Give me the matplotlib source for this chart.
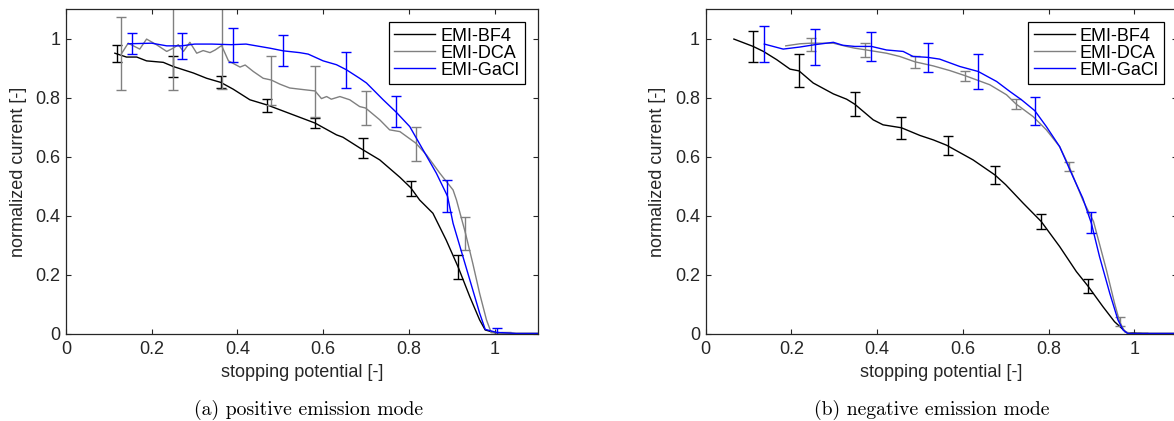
import matplotlib
matplotlib.use('Agg')
import matplotlib.pyplot as plt
from matplotlib.ticker import FuncFormatter

# ---- data (stopping potential vs normalized current) ----
series_names = ['EMI-BF4', 'EMI-DCA', 'EMI-GaCl']
series_colors = ['black', '#808080', '#0000ff']

# (a) positive emission mode
pos_bf4_x = [0.114, 0.141, 0.165, 0.188, 0.227, 0.250, 0.297, 0.328, 0.361, 0.390, 0.429, 0.470,
             0.530, 0.581, 0.631, 0.646, 0.685, 0.732, 0.779, 0.804, 0.825, 0.856, 0.887, 0.915,
             0.942, 0.965, 0.978, 1.000, 1.050, 1.100]
pos_bf4_y = [0.951, 0.938, 0.938, 0.925, 0.920, 0.906, 0.884, 0.866, 0.852, 0.829, 0.793, 0.775,
             0.742, 0.714, 0.674, 0.666, 0.630, 0.589, 0.530, 0.495, 0.453, 0.408, 0.317, 0.225,
             0.125, 0.046, 0.012, 0.003, 0.000, 0.000]
pos_bf4_ex = [0.118, 0.250, 0.361, 0.470, 0.581, 0.693, 0.804, 0.915]
pos_bf4_ey = [0.950, 0.906, 0.852, 0.775, 0.714, 0.628, 0.493, 0.225]
pos_bf4_err = [0.029, 0.035, 0.020, 0.022, 0.018, 0.034, 0.025, 0.040]

pos_dca_x = [0.128, 0.145, 0.172, 0.188, 0.211, 0.235, 0.250, 0.262, 0.274, 0.289, 0.305, 0.320,
             0.336, 0.348, 0.363, 0.379, 0.406, 0.418, 0.437, 0.460, 0.479, 0.499, 0.522, 0.545,
             0.581, 0.596, 0.608, 0.619, 0.639, 0.662, 0.685, 0.699, 0.732, 0.755, 0.779, 0.816,
             0.841, 0.872, 0.903, 0.911, 0.932, 0.949, 0.965, 0.981, 0.992, 1.030, 1.100]
pos_dca_y = [0.946, 0.985, 0.965, 0.999, 0.980, 0.957, 0.968, 0.980, 0.957, 0.988, 0.951, 0.960,
             0.953, 0.962, 0.977, 0.925, 0.904, 0.911, 0.889, 0.866, 0.860, 0.846, 0.833, 0.829,
             0.823, 0.797, 0.804, 0.795, 0.804, 0.793, 0.770, 0.765, 0.725, 0.691, 0.685, 0.646,
             0.606, 0.544, 0.487, 0.453, 0.340, 0.238, 0.136, 0.046, 0.003, 0.000, 0.000]
pos_dca_ex = [0.128, 0.250, 0.363, 0.479, 0.581, 0.699, 0.816, 0.932, 1.027]
pos_dca_ey = [0.950, 0.968, 0.977, 0.858, 0.821, 0.765, 0.643, 0.340, 0.002]
pos_dca_err = [0.123, 0.142, 0.148, 0.084, 0.088, 0.057, 0.057, 0.055, 0.004]

pos_gacl_x = [0.145, 0.200, 0.235, 0.270, 0.300, 0.340, 0.386, 0.420, 0.476, 0.507, 0.545, 0.565,
              0.600, 0.631, 0.654, 0.685, 0.701, 0.740, 0.771, 0.802, 0.833, 0.864, 0.890, 0.903,
              0.926, 0.949, 0.965, 0.978, 1.004, 1.050, 1.100]
pos_gacl_y = [0.983, 0.985, 0.976, 0.976, 0.982, 0.982, 0.980, 0.982, 0.968, 0.959, 0.953, 0.948,
              0.925, 0.912, 0.895, 0.866, 0.850, 0.793, 0.750, 0.702, 0.623, 0.544, 0.466, 0.374,
              0.261, 0.148, 0.069, 0.014, 0.004, 0.000, 0.000]
pos_gacl_ex = [0.153, 0.270, 0.389, 0.507, 0.654, 0.771, 0.890, 1.005]
pos_gacl_ey = [0.984, 0.977, 0.978, 0.960, 0.894, 0.754, 0.466, 0.007]
pos_gacl_err = [0.035, 0.044, 0.057, 0.052, 0.061, 0.052, 0.055, 0.013]

# (b) negative emission mode
neg_bf4_x = [0.066, 0.111, 0.135, 0.166, 0.197, 0.218, 0.251, 0.298, 0.329, 0.348, 0.391, 0.414,
             0.457, 0.500, 0.531, 0.562, 0.624, 0.675, 0.700, 0.741, 0.783, 0.826, 0.865, 0.892,
             0.927, 0.954, 0.982, 1.020, 1.100]
neg_bf4_y = [0.999, 0.974, 0.957, 0.929, 0.897, 0.891, 0.850, 0.813, 0.795, 0.778, 0.725, 0.708,
             0.698, 0.672, 0.657, 0.639, 0.589, 0.538, 0.505, 0.442, 0.380, 0.295, 0.210, 0.161,
             0.091, 0.040, 0.003, 0.000, 0.000]
neg_bf4_ex = [0.111, 0.218, 0.348, 0.457, 0.566, 0.675, 0.783, 0.892, 1.020]
neg_bf4_ey = [0.974, 0.891, 0.778, 0.698, 0.639, 0.538, 0.380, 0.161, 0.000]
neg_bf4_err = [0.054, 0.056, 0.040, 0.037, 0.032, 0.030, 0.024, 0.023, 0.003]

neg_dca_x = [0.187, 0.220, 0.245, 0.298, 0.329, 0.348, 0.371, 0.422, 0.453, 0.488, 0.531, 0.570,
             0.605, 0.663, 0.702, 0.724, 0.764, 0.795, 0.826, 0.848, 0.880, 0.905, 0.935, 0.954,
             0.966, 0.978, 1.000, 1.100]
neg_dca_y = [0.976, 0.983, 0.985, 0.985, 0.974, 0.968, 0.963, 0.951, 0.940, 0.922, 0.908, 0.892,
             0.875, 0.844, 0.810, 0.779, 0.736, 0.691, 0.634, 0.567, 0.453, 0.380, 0.216, 0.103,
             0.040, 0.005, 0.000, 0.000]
neg_dca_ex = [0.245, 0.371, 0.488, 0.605, 0.724, 0.848, 0.966]
neg_dca_ey = [0.980, 0.963, 0.920, 0.875, 0.779, 0.567, 0.040]
neg_dca_err = [0.021, 0.024, 0.020, 0.017, 0.017, 0.016, 0.016]

neg_gacl_x = [0.137, 0.181, 0.220, 0.255, 0.298, 0.320, 0.348, 0.387, 0.422, 0.461, 0.484, 0.518,
              0.546, 0.593, 0.636, 0.679, 0.710, 0.737, 0.768, 0.795, 0.826, 0.857, 0.880, 0.900,
              0.919, 0.943, 0.962, 0.974, 0.985, 1.100]
neg_gacl_y = [0.982, 0.965, 0.972, 0.980, 0.988, 0.978, 0.974, 0.974, 0.962, 0.957, 0.940, 0.937,
              0.931, 0.906, 0.889, 0.855, 0.821, 0.793, 0.756, 0.702, 0.634, 0.532, 0.459, 0.374,
              0.261, 0.136, 0.046, 0.012, 0.000, 0.000]
neg_gacl_ex = [0.137, 0.255, 0.387, 0.518, 0.636, 0.768, 0.900]
neg_gacl_ey = [0.982, 0.972, 0.974, 0.937, 0.889, 0.756, 0.376]
neg_gacl_err = [0.062, 0.060, 0.050, 0.050, 0.058, 0.048, 0.036]

xticks = [0, 0.2, 0.4, 0.6, 0.8, 1.0]
yticks = [0, 0.2, 0.4, 0.6, 0.8, 1.0]
captions = ['(a) positive emission mode', '(b) negative emission mode']

AX_COLOR = '#262626'
FONT = ['Liberation Sans', 'DejaVu Sans']
FS = 13


def draw_panel(ax, lines, bars):
    for (x, y), (ex, ey, err), name, c in zip(lines, bars, series_names, series_colors):
        ax.plot(x, y, color=c, lw=1.0, label=name)
        ax.errorbar(ex, ey, yerr=err, fmt='none', ecolor=c, elinewidth=1.0,
                    capsize=3.6, capthick=1.0)

    ax.set_xlim(0, 1.1)
    ax.set_ylim(0, 1.1)
    ax.set_xticks(xticks)
    ax.set_yticks(yticks)
    fmt = FuncFormatter(lambda v, p: f'{v:g}')
    ax.xaxis.set_major_formatter(fmt)
    ax.yaxis.set_major_formatter(fmt)
    ax.tick_params(direction='in', top=True, right=True, length=3.6, width=0.8,
                   color=AX_COLOR, labelcolor=AX_COLOR, labelsize=FS)
    ax.tick_params(axis='x', pad=5.5)
    ax.tick_params(axis='y', pad=4)
    for s in ax.spines.values():
        s.set_color(AX_COLOR)
        s.set_linewidth(0.9)

    ax.set_xlabel('stopping potential [-]', fontsize=FS, color=AX_COLOR)
    ax.set_ylabel('normalized current [-]', fontsize=FS, color=AX_COLOR)
    ax.xaxis.set_label_coords(0.5, -0.095)
    ax.yaxis.set_label_coords(-0.083, 0.5)

    leg = ax.legend(loc='upper right', fontsize=FS, fancybox=False, edgecolor='black',
                    framealpha=1, handlelength=2.27, handletextpad=0.28, labelspacing=0.0,
                    borderpad=0.3, borderaxespad=0.72)
    leg.get_frame().set_linewidth(0.9)


def main():
    plt.rcParams['font.family'] = FONT
    fig = plt.figure(figsize=(11.74, 4.21), dpi=100)
    W, H = 1174, 421
    bottom = (H - 333.5) / H
    height = 324.2 / H
    ax1 = fig.add_axes([66 / W, bottom, 471.5 / W, height])
    ax2 = fig.add_axes([705.6 / W, bottom, 471.5 / W, height])

    draw_panel(ax1,
               [(pos_bf4_x, pos_bf4_y), (pos_dca_x, pos_dca_y), (pos_gacl_x, pos_gacl_y)],
               [(pos_bf4_ex, pos_bf4_ey, pos_bf4_err), (pos_dca_ex, pos_dca_ey, pos_dca_err),
                (pos_gacl_ex, pos_gacl_ey, pos_gacl_err)])
    draw_panel(ax2,
               [(neg_bf4_x, neg_bf4_y), (neg_dca_x, neg_dca_y), (neg_gacl_x, neg_gacl_y)],
               [(neg_bf4_ex, neg_bf4_ey, neg_bf4_err), (neg_dca_ex, neg_dca_ey, neg_dca_err),
                (neg_gacl_ex, neg_gacl_ey, neg_gacl_err)])

    fig.text(308.7 / W, 1 - 410 / H, captions[0], ha='center', va='center',
             family='cmr10', fontsize=14.2, color='black')
    fig.text(932 / W, 1 - 410 / H, captions[1], ha='center', va='center',
             family='cmr10', fontsize=14.2, color='black')

    fig.savefig('out.png', dpi=100)
    plt.close(fig)


if __name__ == '__main__':
    main()
